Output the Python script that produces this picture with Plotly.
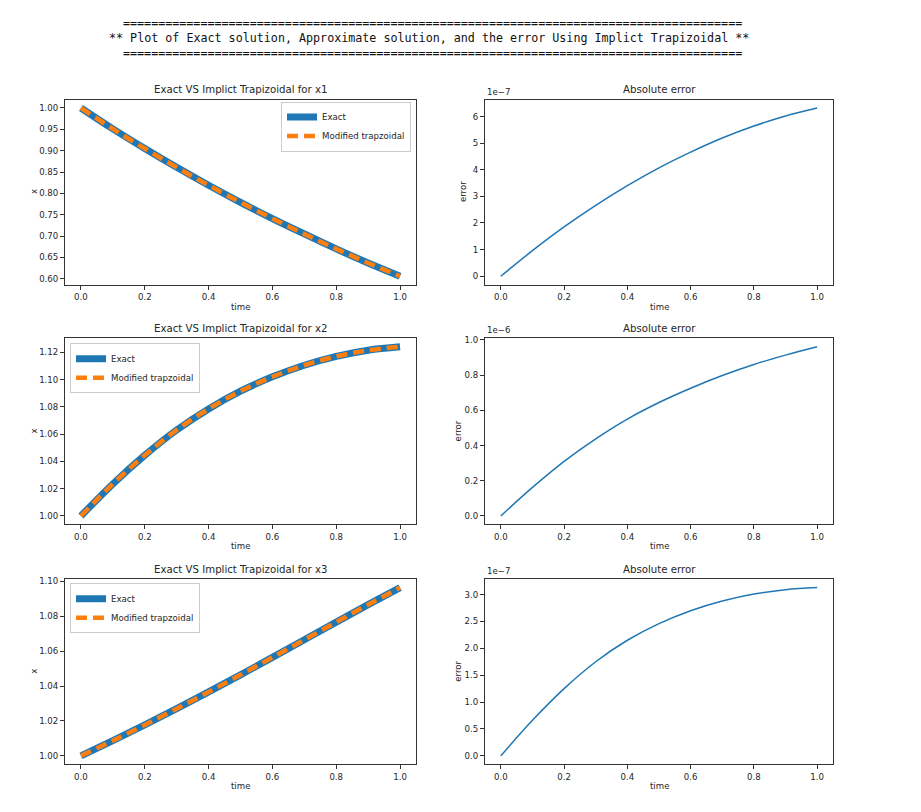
import plotly.graph_objects as go

# ---------------- data ----------------
time = [0.0, 0.1, 0.2, 0.3, 0.4, 0.5, 0.6, 0.7, 0.8, 0.9, 1.0]

x1_exact = [1.000, 0.951, 0.905, 0.861, 0.819, 0.779, 0.741, 0.705, 0.670, 0.637, 0.606]
x1_trap  = [1.000, 0.951, 0.905, 0.861, 0.819, 0.779, 0.741, 0.705, 0.670, 0.637, 0.606]
x2_exact = [1.000, 1.0235, 1.0445, 1.0630, 1.0785, 1.0915, 1.1020, 1.1105, 1.1170, 1.1215, 1.1240]
x2_trap  = [1.000, 1.0235, 1.0445, 1.0630, 1.0785, 1.0915, 1.1020, 1.1105, 1.1170, 1.1215, 1.1240]
x3_exact = [1.000, 1.0087, 1.0177, 1.0270, 1.0366, 1.0464, 1.0564, 1.0665, 1.0766, 1.0866, 1.0964]
x3_trap  = [1.000, 1.0087, 1.0177, 1.0270, 1.0366, 1.0464, 1.0564, 1.0665, 1.0766, 1.0866, 1.0964]

err1 = [0.0, 0.96e-7, 1.85e-7, 2.66e-7, 3.40e-7, 4.07e-7, 4.66e-7, 5.19e-7, 5.64e-7, 6.02e-7, 6.32e-7]
err2 = [0.0, 0.162e-6, 0.310e-6, 0.438e-6, 0.550e-6, 0.644e-6, 0.725e-6, 0.797e-6, 0.860e-6, 0.913e-6, 0.960e-6]
err3 = [0.0, 0.66e-7, 1.25e-7, 1.75e-7, 2.15e-7, 2.46e-7, 2.70e-7, 2.88e-7, 3.01e-7, 3.09e-7, 3.13e-7]

x_ticks = [0.0, 0.2, 0.4, 0.6, 0.8, 1.0]
x_ticklabels = ["0.0", "0.2", "0.4", "0.6", "0.8", "1.0"]
y1_ticks = [0.60, 0.65, 0.70, 0.75, 0.80, 0.85, 0.90, 0.95, 1.00]
y2_ticks = [1.00, 1.02, 1.04, 1.06, 1.08, 1.10, 1.12]
y3_ticks = [1.00, 1.02, 1.04, 1.06, 1.08, 1.10]
e1_ticks = [0, 1, 2, 3, 4, 5, 6]
e1_labels = ["0", "1", "2", "3", "4", "5", "6"]
e2_ticks = [0.0, 0.2, 0.4, 0.6, 0.8, 1.0]
e2_labels = ["0.0", "0.2", "0.4", "0.6", "0.8", "1.0"]
e3_ticks = [0.0, 0.5, 1.0, 1.5, 2.0, 2.5, 3.0]
e3_labels = ["0.0", "0.5", "1.0", "1.5", "2.0", "2.5", "3.0"]

sol_titles = ["Exact VS Implict Trapizoidal for x1",
              "Exact VS Implict Trapizoidal for x2",
              "Exact VS Implict Trapizoidal for x3"]
err_title = "Absolute error"
offsets = ["1e\u22127", "1e\u22126", "1e\u22127"]
header_main = "** Plot of Exact solution, Approximate solution, and the error Using Implict Trapizoidal **"
header_rule = "=" * 88

# ---------------- layout helpers ----------------
BODY = 8                     # default page margin of the html body
W, H = 921 - BODY, 812 - BODY
BLUE = "#1f77b4"
ORANGE = "#ff7f0e"
FONT = "DejaVu Sans"
TXT = "#262626"
SMALL = 8.6
TITLE = 10.2

def px_x(p):
    return (p - BODY) / W

def px_y(p):
    return 1 - (p - BODY) / H

left_px = (65, 416)
right_px = (485, 833)
left_dom = [px_x(left_px[0]), px_x(left_px[1])]
right_dom = [px_x(right_px[0]), px_x(right_px[1])]
rows_px = [(96, 282), (336, 523), (578, 764)]
ylab_left_px = 34
ylab_right_px = [463, 458, 458]

fig = go.Figure()

sols = [(x1_exact, x1_trap), (x2_exact, x2_trap), (x3_exact, x3_trap)]
errs = [err1, err2, err3]
sol_ticks = [y1_ticks, y2_ticks, y3_ticks]
err_ticks = [(e1_ticks, e1_labels, 1e-7), (e2_ticks, e2_labels, 1e-6), (e3_ticks, e3_labels, 1e-7)]
legend_names = ["legend", "legend2", "legend3"]

def pad_range(vals):
    lo, hi = min(vals), max(vals)
    d = (hi - lo) * 0.05
    return [lo - d, hi + d]

axis_common = dict(
    showline=True, linecolor="#333333", linewidth=1, mirror=True,
    ticks="outside", ticklen=4, tickwidth=1, tickcolor="#333333",
    showgrid=False, zeroline=False,
    tickfont=dict(family=FONT, size=SMALL, color=TXT),
)

def txt(text, x, y, size=SMALL, xanchor="center", yanchor="middle", angle=0, family=FONT, color=TXT):
    return dict(text=text, x=x, y=y, xref="paper", yref="paper", xanchor=xanchor, yanchor=yanchor,
                textangle=angle, showarrow=False, font=dict(family=family, size=size, color=color))

annotations = []
for i in range(3):
    top, bot = rows_px[i]
    ydom = [px_y(bot), px_y(top)]
    xa_s = 2 * i + 1
    xa_e = 2 * i + 2
    ex, tr = sols[i]
    leg = legend_names[i]

    fig.add_trace(go.Scatter(x=time, y=ex, mode="lines", name="Exact",
                             line=dict(color=BLUE, width=7, shape="spline", smoothing=1),
                             xaxis=f"x{xa_s}", yaxis=f"y{xa_s}", legend=leg))
    fig.add_trace(go.Scatter(x=time, y=tr, mode="lines", name="Modified trapzoidal",
                             line=dict(color=ORANGE, width=4.5, dash="11px,6px",
                                       shape="spline", smoothing=1),
                             xaxis=f"x{xa_s}", yaxis=f"y{xa_s}", legend=leg))
    fig.add_trace(go.Scatter(x=time, y=errs[i], mode="lines", name="error",
                             line=dict(color=BLUE, width=1.5, shape="spline", smoothing=1),
                             xaxis=f"x{xa_e}", yaxis=f"y{xa_e}", showlegend=False))

    xr = [-0.05, 1.05]
    sfx_s = "" if xa_s == 1 else str(xa_s)
    sfx_e = str(xa_e)
    fig.layout[f"xaxis{sfx_s}"] = dict(axis_common, domain=left_dom, range=xr, anchor=f"y{xa_s}",
                                       tickvals=x_ticks, ticktext=x_ticklabels)
    fig.layout[f"yaxis{sfx_s}"] = dict(axis_common, domain=ydom, range=pad_range(ex + tr), anchor=f"x{xa_s}",
                                       tickvals=sol_ticks[i], tickformat=".2f")
    tv, tl, sc = err_ticks[i]
    fig.layout[f"xaxis{sfx_e}"] = dict(axis_common, domain=right_dom, range=xr, anchor=f"y{xa_e}",
                                       tickvals=x_ticks, ticktext=x_ticklabels)
    fig.layout[f"yaxis{sfx_e}"] = dict(axis_common, domain=ydom, range=pad_range(errs[i]), anchor=f"x{xa_e}",
                                       tickvals=[v * sc for v in tv], ticktext=tl)

    ymid = px_y((top + bot) / 2)
    # subplot titles
    annotations.append(txt(sol_titles[i], (left_dom[0] + left_dom[1]) / 2, px_y(top - 10), size=TITLE))
    annotations.append(txt(err_title, (right_dom[0] + right_dom[1]) / 2, px_y(top - 10), size=TITLE))
    # offset text
    annotations.append(txt(offsets[i], right_dom[0], px_y(top - 8), xanchor="left"))
    # axis titles
    annotations.append(txt("time", (left_dom[0] + left_dom[1]) / 2, px_y(bot + 22)))
    annotations.append(txt("time", (right_dom[0] + right_dom[1]) / 2, px_y(bot + 22)))
    annotations.append(txt("x", px_x(ylab_left_px), ymid, angle=-90))
    annotations.append(txt("error", px_x(ylab_right_px[i]), ymid, angle=-90))

# header
MONO = "DejaVu Sans Mono"
for t, ypx, xc in [(header_rule, 19, 432), (header_main, 34, 428.5), (header_rule, 49, 432)]:
    annotations.append(txt(t, px_x(xc), px_y(ypx), size=11.7, family=MONO, color="#111111"))

leg_common = dict(bordercolor="#cccccc", borderwidth=1, bgcolor="rgba(255,255,255,0.8)",
                  font=dict(family=FONT, size=SMALL, color=TXT), tracegroupgap=0, itemwidth=30,
                  xref="paper", yref="paper", yanchor="top")

fig.update_layout(
    width=W, height=H,
    margin=dict(l=0, r=0, t=0, b=0),
    paper_bgcolor="white", plot_bgcolor="white",
    showlegend=True,
    annotations=annotations,
    legend=dict(leg_common, x=px_x(411), y=px_y(98), xanchor="right"),
    legend2=dict(leg_common, x=px_x(70), y=px_y(341), xanchor="left"),
    legend3=dict(leg_common, x=px_x(70), y=px_y(582), xanchor="left"),
    font=dict(family=FONT, color=TXT),
)

fig.write_html("out.html")
